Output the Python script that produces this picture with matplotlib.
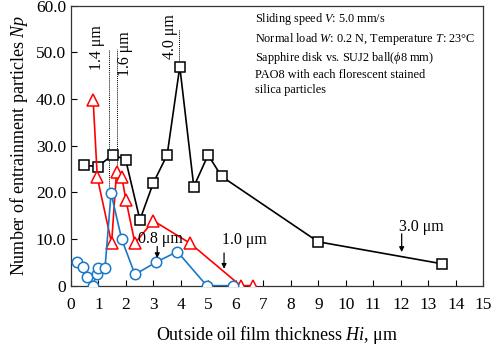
import numpy as np
import matplotlib
matplotlib.use("Agg")
import matplotlib.pyplot as plt

plt.rcParams['font.family'] = ['Liberation Serif', 'DejaVu Serif']
plt.rcParams['mathtext.fontset'] = 'custom'
plt.rcParams['mathtext.rm'] = 'Liberation Serif'
plt.rcParams['mathtext.it'] = 'Liberation Serif:italic'

# 3.0 um particles (black squares)
hi_30 = [0.48, 0.97, 1.52, 1.99, 2.51, 2.99, 3.5, 3.96, 4.47, 4.99, 5.48, 8.99, 13.48]
np_30 = [25.8, 25.5, 28.0, 27.0, 14.1, 21.9, 28.0, 46.9, 21.2, 28.0, 23.4, 9.4, 4.7]

# 1.0 um particles (red triangles)
hi_10 = [0.81, 0.96, 1.48, 1.66, 1.85, 2.0, 2.33, 3.0, 4.33, 6.17, 6.63]
np_10 = [39.7, 23.2, 9.1, 24.4, 23.3, 18.4, 9.1, 13.9, 9.1, 0.0, 0.0]

# 0.8 um particles (blue circles)
hi_08 = [0.21, 0.45, 0.6, 0.79, 0.94, 1.0, 1.24, 1.46, 1.85, 2.33, 3.09, 3.87, 4.94, 5.9]
np_08 = [5.0, 3.9, 1.9, 0.0, 2.5, 3.7, 3.7, 19.8, 9.9, 2.4, 5.0, 7.3, 0.0, 0.0]

info_lines = [
    "Sliding speed $\\mathit{V}$: 5.0 mm/s",
    "Normal load $\\mathit{W}$: 0.2 N, Temperature $\\mathit{T}$: 23°C",
    "Sapphire disk vs. SUJ2 ball($\\mathit{\\phi}$8 mm)",
    "PAO8 with each florescent stained",
    "silica particles",
]

fig = plt.figure(figsize=(4.91, 3.45), dpi=100)
ax = fig.add_axes([0.1444, 0.172, 0.84, 0.812])

ax.plot(hi_30, np_30, color="black", lw=1.2, marker="s", ms=7.5,
        mfc="white", mec="black", mew=1.1, zorder=3)
ax.plot(hi_10, np_10, color="#ff0000", lw=1.2, marker="^", ms=8,
        mfc="white", mec="#ff0000", mew=1.1, zorder=3)
ax.plot(hi_08, np_08, color="#1a78c8", lw=1.2, marker="o", ms=7.5,
        mfc="white", mec="#1a78c8", mew=1.1, zorder=3)

# dotted guides for peaks
ax.plot([1.40, 1.40], [20.8, 50.5], color="black", lw=0.7, ls=(0, (1, 1)), zorder=2)
ax.plot([1.66, 1.66], [25.6, 50.7], color="black", lw=0.7, ls=(0, (1, 1)), zorder=2)
ax.plot([3.92, 3.92], [48.3, 55.0], color="black", lw=0.7, ls=(0, (1, 1)), zorder=2)

ax.text(0.95, 51.0, "1.4 μm", rotation=90, ha="center", va="center", fontsize=11.5)
ax.text(1.97, 49.8, "1.6 μm", rotation=90, ha="center", va="center", fontsize=11.5)
ax.text(3.6, 53.3, "4.0 μm", rotation=90, ha="center", va="center", fontsize=11.5)

arrow = dict(arrowstyle="-|>", color="black", lw=0.9, mutation_scale=7, shrinkA=0, shrinkB=0)
ax.text(3.26, 9.9, "0.8 μm", ha="center", va="center", fontsize=11.5)
ax.annotate("", xy=(3.14, 5.9), xytext=(3.14, 8.4), arrowprops=arrow)
ax.text(6.32, 9.8, "1.0 μm", ha="center", va="center", fontsize=11.5)
ax.annotate("", xy=(5.57, 3.6), xytext=(5.57, 7.0), arrowprops=arrow)
ax.text(12.75, 12.6, "3.0 μm", ha="center", va="center", fontsize=11.5)
ax.annotate("", xy=(12.03, 7.2), xytext=(12.03, 11.1), arrowprops=arrow)

ax.text(0.447, 0.98, "\n".join(info_lines), transform=ax.transAxes,
        ha="left", va="top", fontsize=8.8, linespacing=1.32)

ax.set_xlim(0, 15)
ax.set_ylim(0, 60)
ax.set_xticks(range(0, 16))
ax.set_yticks(range(0, 61, 10))
ax.set_yticklabels(["0"] + ["%.1f" % v for v in range(10, 61, 10)])
ax.tick_params(direction="in", length=4, width=0.8, labelsize=12.5,
               top=False, right=False)
ax.tick_params(axis="x", pad=8)
for s in ax.spines.values():
    s.set_linewidth(0.9)
    s.set_color("#333333")

ax.set_xlabel("Outside oil film thickness $\\mathit{Hi}$, μm", fontsize=13, labelpad=8)
ax.set_ylabel("Number of entrainment particles $\\mathit{Np}$", fontsize=13, labelpad=4)

fig.savefig("out.png", dpi=100)
